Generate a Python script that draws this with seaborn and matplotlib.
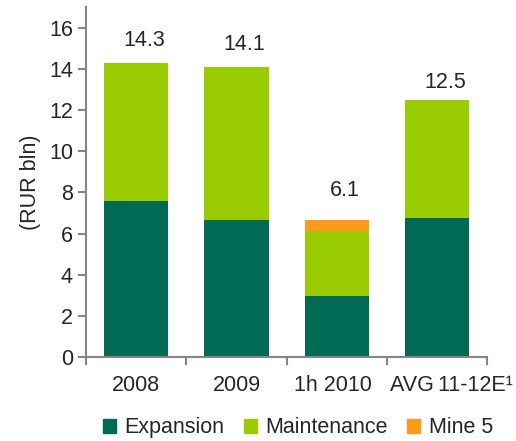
import seaborn as sns
import matplotlib.pyplot as plt
import matplotlib.transforms as mtransforms
from matplotlib.patches import Patch

# values (RUR bln)
categories = ["2008", "2009", "1h 2010", "AVG\u200911-12E\u00b9"]
expansion = [7.6, 6.65, 2.95, 6.75]
maintenance = [6.7, 7.45, 3.2, 5.75]
mine5 = [0, 0, 0.5, 0]
totals = ["14.3", "14.1", "6.1", "12.5"]
label_y = [15.4, 15.2, 8.1, 13.35]

c_exp = "#006B54"
c_main = "#99CC00"
c_mine = "#FF9A1A"
grey = "#858585"
fs = 15.5

sns.set_style("white")
plt.rcParams["font.family"] = ["Liberation Sans", "DejaVu Sans"]

fig = plt.figure(figsize=(5.16, 4.41), dpi=100)
ax = fig.add_axes([0.167, 0.19, 0.777, 0.794])

bottom2 = [e + m for e, m in zip(expansion, maintenance)]
kw = dict(width=0.64, ax=ax, saturation=1, linewidth=0)
sns.barplot(x=categories, y=expansion, color=c_exp, **kw)
sns.barplot(x=categories, y=maintenance, bottom=expansion, color=c_main, **kw)
sns.barplot(x=categories, y=mine5, bottom=bottom2, color=c_mine, **kw)

for i, (t, y) in enumerate(zip(totals, label_y)):
    ax.text(i + 0.08, y, t, ha="center", va="center", fontsize=fs)

ax.set_xlim(-0.5, 3.5)
ax.set_ylim(0, 17)
ax.set_yticks(range(0, 17, 2))
ax.set_ylabel("(RUR bln)", fontsize=fs, labelpad=6)
ax.set_xlabel("")

# tick marks between categories
ax.set_xticks([-0.5, 0.5, 1.5, 2.5, 3.5], minor=True)
ax.tick_params(axis="x", which="major", length=0, labelsize=fs, pad=13)
ax.tick_params(axis="x", which="minor", length=6, width=1.5, color=grey, direction="out", bottom=True)
ax.tick_params(axis="y", length=6, width=1.5, color=grey, direction="out", left=True, labelsize=fs)

# nudge the crowded right-hand labels like the original
shifts = [0, 0, -4, 14]
for lab, dx in zip(ax.get_xticklabels(), shifts):
    lab.set_transform(lab.get_transform() + mtransforms.ScaledTranslation(dx / 100, 0, fig.dpi_scale_trans))

sns.despine(ax=ax)
for s in ["left", "bottom"]:
    ax.spines[s].set_color(grey)
    ax.spines[s].set_linewidth(1.5)

handles = [Patch(color=c_exp, label="Expansion"),
           Patch(color=c_main, label="Maintenance"),
           Patch(color=c_mine, label="Mine 5")]
fig.legend(handles=handles, loc="center", bbox_to_anchor=(0.577, 0.03), ncol=3,
           frameon=False, fontsize=fs, handlelength=0.6, handleheight=0.6,
           handletextpad=0.4, columnspacing=0.9)

fig.savefig("out.png", dpi=100)
plt.close(fig)
